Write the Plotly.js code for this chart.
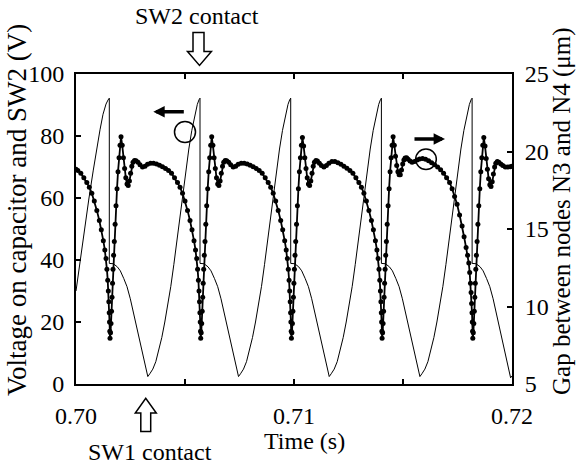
<!DOCTYPE html>
<html>
<head>
<meta charset="utf-8">
<script src="https://cdn.plot.ly/plotly-3.0.1.min.js"></script>
<style>html,body{margin:0;padding:0;background:#fff;}#chart{width:576px;height:466px;}</style>
</head>
<body>
<div id="chart"></div>
<script>
// ---- Voltage on capacitor and SW2 (V), time in ms ----
const voltTimeMs = [
700.000,700.183,700.413,700.596,700.794,700.940,701.101,701.239,701.376,701.468,
701.528,701.528,701.711,701.895,702.033,702.193,702.340,702.491,702.643,702.789,702.950,703.088,703.179,703.294,703.386,703.523,703.661,703.799,703.936,704.074,704.212,704.349,704.487,704.624,704.762,704.900,705.037,705.175,705.312,705.450,705.565,705.643,
705.688,705.688,705.871,706.055,706.193,706.353,706.500,706.651,706.803,706.949,707.110,707.248,707.339,707.454,707.546,707.683,707.821,707.959,708.096,708.234,708.372,708.509,708.647,708.784,708.922,709.060,709.197,709.335,709.472,709.610,709.725,709.803,
709.849,709.849,710.032,710.216,710.354,710.514,710.661,710.812,710.964,711.110,711.271,711.409,711.500,711.615,711.707,711.844,711.982,712.120,712.257,712.395,712.533,712.670,712.808,712.945,713.083,713.221,713.358,713.496,713.633,713.771,713.886,713.964,
714.009,714.009,714.192,714.376,714.514,714.674,714.821,714.972,715.124,715.270,715.431,715.569,715.660,715.775,715.867,716.004,716.142,716.280,716.417,716.555,716.693,716.830,716.968,717.105,717.243,717.381,717.518,717.656,717.793,717.931,718.046,718.124,
718.170,718.170,718.353,718.537,718.675,718.835,718.982,719.133,719.285,719.431,719.592,719.730,719.821,719.936,720.000
];
const voltValue = [
30.0,39.5,50.0,60.0,69.0,75.5,82.0,87.0,90.3,91.6,
92.2,38.9,38.8,37.8,36.5,34.0,31.4,27.5,22.8,18.0,13.1,8.8,5.6,2.4,3.3,4.8,7.2,10.8,15.0,20.0,25.5,31.5,38.5,46.0,53.5,61.5,69.0,75.8,81.8,86.8,90.2,91.7,
92.2,38.9,38.8,37.8,36.5,34.0,31.4,27.5,22.8,18.0,13.1,8.8,5.6,2.4,3.3,4.8,7.2,10.8,15.0,20.0,25.5,31.5,38.5,46.0,53.5,61.5,69.0,75.8,81.8,86.8,90.2,91.7,
92.2,38.9,38.8,37.8,36.5,34.0,31.4,27.5,22.8,18.0,13.1,8.8,5.6,2.4,3.3,4.8,7.2,10.8,15.0,20.0,25.5,31.5,38.5,46.0,53.5,61.5,69.0,75.8,81.8,86.8,90.2,91.7,
92.2,38.9,38.8,37.8,36.5,34.0,31.4,27.5,22.8,18.0,13.1,8.8,5.6,2.4,3.3,4.8,7.2,10.8,15.0,20.0,25.5,31.5,38.5,46.0,53.5,61.5,69.0,75.8,81.8,86.8,90.2,91.7,
92.2,38.9,38.8,37.8,36.5,34.0,31.4,27.5,22.8,18.0,13.1,8.8,5.6,2.0,2.6
];

// ---- Gap between nodes N3 and N4 (um), time in ms ----
const gapTimeMs0 = [700.000,700.083,700.221,700.359,700.496,700.611,700.726,700.840,700.955,701.070,701.161,701.253,701.322,701.377,701.418,701.455,701.483,701.506,701.524,701.538,701.551];
const gapValue0 = [18.85,18.78,18.6,18.3,18.0,17.7,17.3,16.8,16.2,15.55,14.95,14.25,13.65,13.1,12.4,11.7,11.0,10.3,9.6,9.0,8.4];

const gapTimeMs1 = [701.560,701.583,701.606,701.629,701.652,701.675,701.698,701.725,701.757,701.794,701.835,701.881,701.927,701.973,702.019,702.065,702.120,702.175,702.230,702.285,702.340,702.395,702.450,702.505,702.560,702.615,702.684,702.753,702.844,702.936,703.051,703.166,703.280,703.418,703.555,703.693,703.831,703.968,704.106,704.244,704.381,704.519,704.656,704.771,704.886,705.000,705.115,705.230,705.321,705.413,705.482,705.537,705.578,705.615,705.643,705.666,705.684,705.698,705.711];
const gapValue1 = [7.95,8.3,8.9,9.7,10.6,11.5,12.4,13.3,14.2,15.3,16.5,17.6,18.7,19.6,20.4,20.95,20.4,19.6,18.9,18.3,17.9,17.8,18.1,18.6,19.05,19.3,19.42,19.4,19.3,19.15,19.0,19.05,19.18,19.25,19.25,19.2,19.12,19.02,18.9,18.78,18.6,18.3,18.0,17.7,17.3,16.8,16.2,15.55,14.95,14.25,13.65,13.1,12.4,11.7,11.0,10.3,9.6,9.0,8.4];

const gapTimeMs2 = [705.720,705.743,705.766,705.789,705.812,705.835,705.858,705.885,705.917,705.954,705.995,706.041,706.087,706.133,706.179,706.225,706.280,706.335,706.390,706.445,706.500,706.555,706.610,706.665,706.720,706.775,706.844,706.913,707.004,707.096,707.211,707.326,707.440,707.578,707.715,707.853,707.991,708.128,708.266,708.404,708.541,708.679,708.816,708.931,709.046,709.160,709.275,709.390,709.481,709.573,709.642,709.697,709.738,709.775,709.803,709.826,709.844,709.858,709.871];
const gapValue2 = [7.95,8.3,8.9,9.7,10.6,11.5,12.4,13.3,14.2,15.3,16.5,17.6,18.7,19.6,20.4,20.95,20.4,19.6,18.9,18.3,17.9,17.8,18.1,18.6,19.05,19.3,19.42,19.4,19.3,19.15,19.0,19.05,19.18,19.25,19.25,19.2,19.12,19.02,18.9,18.78,18.6,18.3,18.0,17.7,17.3,16.8,16.2,15.55,14.95,14.25,13.65,13.1,12.4,11.7,11.0,10.3,9.6,9.0,8.4];

const gapTimeMs3 = [709.881,709.904,709.927,709.950,709.973,709.996,710.019,710.046,710.078,710.115,710.156,710.202,710.248,710.294,710.340,710.386,710.441,710.496,710.551,710.606,710.661,710.716,710.771,710.826,710.881,710.936,711.005,711.074,711.165,711.257,711.372,711.487,711.601,711.739,711.876,712.014,712.152,712.289,712.427,712.565,712.702,712.840,712.977,713.092,713.207,713.321,713.436,713.551,713.642,713.734,713.803,713.858,713.899,713.936,713.964,713.987,714.005,714.019,714.032];
const gapValue3 = [7.95,8.3,8.9,9.7,10.6,11.5,12.4,13.3,14.2,15.3,16.5,17.6,18.7,19.6,20.4,20.9,20.35,19.6,18.9,18.3,17.9,17.8,18.1,18.6,19.05,19.3,19.42,19.38,19.25,19.1,19.0,19.1,19.25,19.35,19.35,19.28,19.18,19.05,18.92,18.78,18.6,18.3,18.0,17.7,17.3,16.8,16.2,15.55,14.95,14.25,13.65,13.1,12.4,11.7,11.0,10.3,9.6,9.0,8.4];

const gapTimeMs4 = [714.041,714.064,714.087,714.110,714.133,714.156,714.179,714.206,714.238,714.275,714.316,714.362,714.408,714.454,714.500,714.546,714.601,714.656,714.711,714.766,714.821,714.876,714.931,714.986,715.041,715.096,715.165,715.234,715.325,715.417,715.532,715.647,715.761,715.899,716.036,716.174,716.312,716.449,716.587,716.725,716.862,717.000,717.137,717.252,717.367,717.481,717.596,717.711,717.802,717.894,717.963,718.018,718.059,718.096,718.124,718.147,718.165,718.179,718.192];
const gapValue4 = [7.95,8.3,8.9,9.7,10.6,11.5,12.4,13.3,14.2,15.3,16.5,17.6,18.7,19.6,20.4,20.95,20.4,19.7,19.1,18.7,18.5,18.5,18.8,19.2,19.45,19.58,19.6,19.5,19.38,19.3,19.35,19.45,19.52,19.55,19.5,19.4,19.28,19.15,19.0,18.82,18.6,18.3,18.0,17.6,17.1,16.6,15.9,15.2,14.5,13.8,13.3,12.8,12.2,11.5,10.9,10.2,9.6,9.0,8.4];

const gapTimeMs5 = [718.202,718.225,718.248,718.271,718.294,718.317,718.340,718.367,718.399,718.436,718.477,718.523,718.569,718.615,718.661,718.707,718.762,718.817,718.872,718.927,718.982,719.037,719.092,719.147,719.202,719.257,719.326,719.395,719.486,719.578,719.693,719.808,719.922,720.000];
const gapValue5 = [7.95,8.3,8.9,9.7,10.6,11.5,12.4,13.3,14.2,15.3,16.5,17.6,18.7,19.6,20.4,20.9,20.35,19.55,18.85,18.25,17.85,17.75,18.05,18.55,19.0,19.25,19.35,19.3,19.2,19.1,19.0,19.0,19.02,19.05];

// ---- axis ticks and titles ----
const xTickVals = [0.70, 0.705, 0.71, 0.715, 0.72];
const xTickText = ['0.70', '', '0.71', '', '0.72'];
const yLeftTicks = [0, 20, 40, 60, 80, 100];
const yRightTicks = [5, 10, 15, 20, 25];
const xTitle = 'Time (s)';
const yLeftTitle = 'Voltage on capacitor and SW2 (V)';
const yRightTitle = 'Gap between nodes N3 and N4 (μm)';

const msToSec = a => a.map(v => v / 1000);
const gapTime = msToSec([].concat(gapTimeMs0, gapTimeMs1, gapTimeMs2, gapTimeMs3, gapTimeMs4, gapTimeMs5));
const gapValue = [].concat(gapValue0, gapValue1, gapValue2, gapValue3, gapValue4, gapValue5);

const FONT = '"Liberation Serif", "Times New Roman", Times, serif';

const traces = [
  {x: msToSec(voltTimeMs), y: voltValue, mode: 'lines', yaxis: 'y',
   line: {color: 'black', width: 1}, hoverinfo: 'skip'},
  {x: gapTime, y: gapValue, mode: 'lines+markers', yaxis: 'y2',
   line: {color: 'black', width: 1.8}, marker: {color: 'black', size: 5},
   hoverinfo: 'skip'}
];

const axisCommon = {
  showline: true, linecolor: 'black', linewidth: 2, ticks: 'inside', ticklen: 5,
  tickwidth: 2, tickcolor: 'black', showgrid: false, zeroline: false,
  tickfont: {family: FONT, size: 24, color: 'black'}
};

const layout = {
  width: 576, height: 466,
  margin: {l: 76, r: 64, t: 74, b: 82},
  paper_bgcolor: 'white', plot_bgcolor: 'white',
  showlegend: false,
  font: {family: FONT, size: 24, color: 'black'},
  xaxis: Object.assign({}, axisCommon, {
    range: [0.70, 0.72], tickmode: 'array', tickvals: xTickVals, ticktext: xTickText,
    mirror: 'ticks', ticklabelstandoff: 9
  }),
  yaxis: Object.assign({}, axisCommon, {
    range: [0, 100], tickmode: 'array', tickvals: yLeftTicks, ticklabelstandoff: 5
  }),
  yaxis2: Object.assign({}, axisCommon, {
    range: [5, 25], tickmode: 'array', tickvals: yRightTicks, overlaying: 'y', side: 'right',
    ticklabelstandoff: 6
  }),
  shapes: [
    // hollow down arrow (SW2 contact)
    {type: 'path', xref: 'paper', yref: 'paper',
     path: 'M0.26835,1.13419 L0.29358,1.13419 L0.29358,1.07258 L0.31055,1.07258 L0.28326,1.02774 L0.25573,1.07258 L0.26835,1.07258 Z',
     line: {color: 'black', width: 1.5}, fillcolor: 'white'},
    // hollow up arrow (SW1 contact)
    {type: 'path', xref: 'paper', yref: 'paper',
     path: 'M0.14862,-0.15323 L0.17133,-0.15323 L0.17133,-0.09387 L0.18417,-0.09387 L0.15998,-0.04645 L0.13601,-0.09387 L0.14862,-0.09387 Z',
     line: {color: 'black', width: 1.5}, fillcolor: 'white'},
    // circles marking the curves
    {type: 'circle', xref: 'paper', yref: 'paper', x0: 0.2259, x1: 0.2741, y0: 0.7790, y1: 0.8468,
     line: {color: 'black', width: 1.5}},
    {type: 'circle', xref: 'paper', yref: 'paper', x0: 0.7791, x1: 0.8264, y0: 0.6916, y1: 0.7581,
     line: {color: 'black', width: 1.5}}
  ],
  annotations: [
    {text: xTitle, xref: 'paper', yref: 'paper', x: 0.5252, y: -0.183,
     showarrow: false, xanchor: 'center', yanchor: 'middle', font: {family: FONT, size: 24}},
    {text: yLeftTitle, xref: 'paper', yref: 'paper', x: -0.1353, y: 0.5613, textangle: -90,
     showarrow: false, xanchor: 'center', yanchor: 'middle', font: {family: FONT, size: 27}},
    {text: yRightTitle, xref: 'paper', yref: 'paper', x: 1.1147, y: 0.555, textangle: -90,
     showarrow: false, xanchor: 'center', yanchor: 'middle', font: {family: FONT, size: 25}},
    {text: 'SW2 contact', xref: 'paper', yref: 'paper', x: 0.2775, y: 1.1855,
     showarrow: false, xanchor: 'center', yanchor: 'middle', font: {family: FONT, size: 24}},
    {text: 'SW1 contact', xref: 'paper', yref: 'paper', x: 0.1697, y: -0.219,
     showarrow: false, xanchor: 'center', yanchor: 'middle', font: {family: FONT, size: 24}},
    // solid arrows pointing to each curve's axis
    {text: '', xref: 'paper', yref: 'paper', x: 0.1773, y: 0.8784, axref: 'pixel', ayref: 'pixel',
     ax: 32, ay: 0, showarrow: true, arrowhead: 2, arrowsize: 0.65, arrowwidth: 3.5, arrowcolor: 'black'},
    {text: '', xref: 'paper', yref: 'paper', x: 0.8463, y: 0.7903, axref: 'pixel', ayref: 'pixel',
     ax: -32, ay: 0, showarrow: true, arrowhead: 2, arrowsize: 0.65, arrowwidth: 3.5, arrowcolor: 'black'}
  ]
};

Plotly.newPlot('chart', traces, layout, {staticPlot: true, displayModeBar: false});
</script>
</body>
</html>
